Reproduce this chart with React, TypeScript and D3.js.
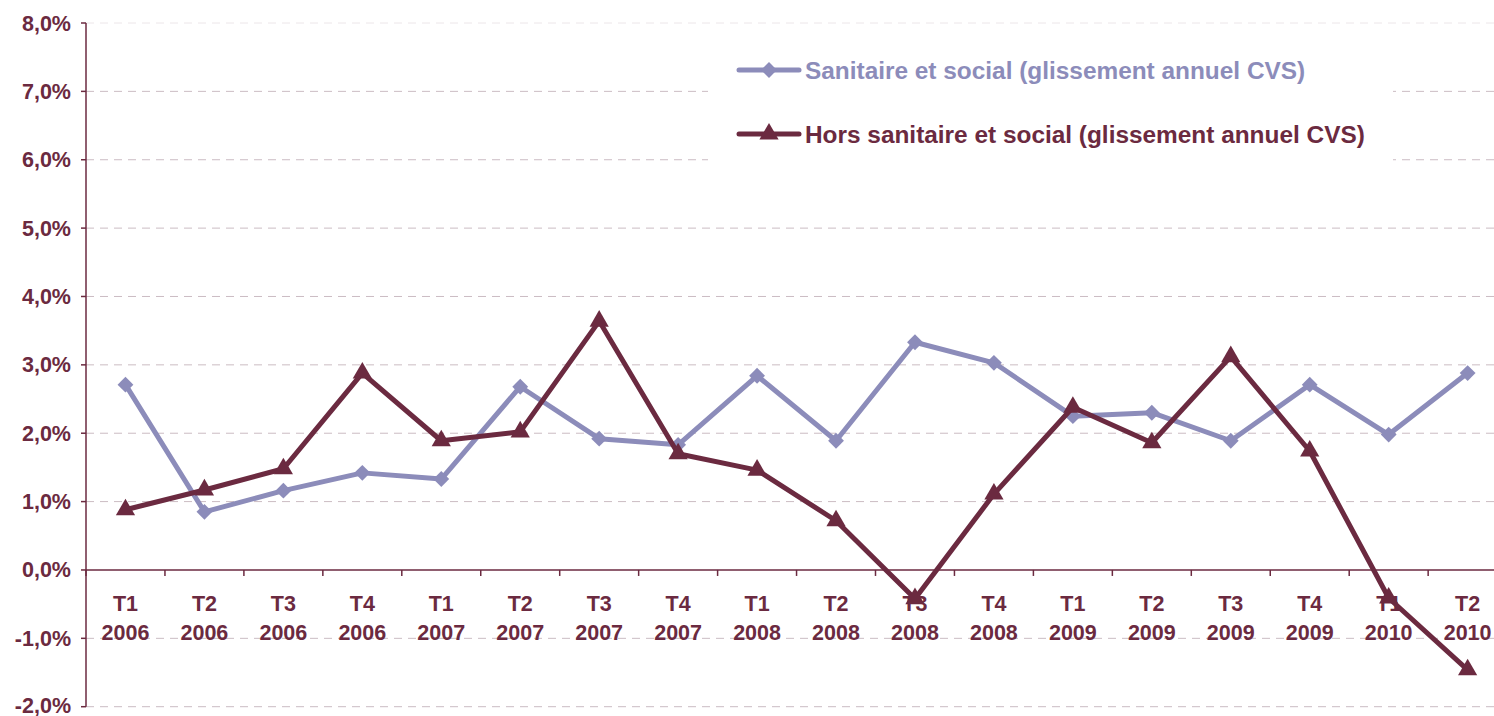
import React from "react";
import * as d3 from "d3";

const quarters = ["T1","T2","T3","T4","T1","T2","T3","T4","T1","T2","T3","T4","T1","T2","T3","T4","T1","T2"];
const years = ["2006","2006","2006","2006","2007","2007","2007","2007","2008","2008","2008","2008","2009","2009","2009","2009","2010","2010"];
const sanitaire = [2.71,0.85,1.16,1.42,1.33,2.68,1.92,1.83,2.84,1.89,3.33,3.03,2.25,2.30,1.89,2.71,1.98,2.88];
const hors = [0.88,1.17,1.48,2.88,1.89,2.02,3.64,1.70,1.46,0.72,-0.42,1.11,2.38,1.86,3.12,1.74,-0.41,-1.46];
const yTicks = [8,7,6,5,4,3,2,1,0,-1,-2];
const seriesNames = ["Sanitaire et social (glissement annuel CVS)", "Hors sanitaire et social (glissement annuel CVS)"];

const W = 1494, H = 716;
const MAROON = "#6b2a40";
const LAV = "#8c8cba";
const GRID = "#cbbcc3";
const FONT = "'Liberation Sans', Arial, sans-serif";

export default function App() {
  const x0 = 86;
  const band = 78.95;
  const idx = d3.range(quarters.length).map(String);
  const x = d3.scaleBand().domain(idx).range([x0, x0 + band * quarters.length]).padding(0);
  const cx = (i: number) => (x(String(i)) as number) + x.bandwidth() / 2;
  const y = d3.scaleLinear().domain([-2, 8]).range([706.7, 23]);

  const line = d3.line<number>().x((_, i) => cx(i)).y((d) => y(d));
  const diamond = d3.symbol().type(d3.symbolDiamond2).size(160)();
  const tri = d3.symbol().type(d3.symbolTriangle).size(160)();

  const fmt = (v: number) => v.toFixed(1).replace(".", ",") + "%";

  return (
    <svg width={W} height={H} style={{ position: "absolute", left: 0, top: 0, background: "#fff" }} fontFamily={FONT}>
      {/* gridlines */}
      {yTicks.filter((t) => t !== 0).map((t) => (
        <line key={"g" + t} x1={x0} x2={W} y1={y(t)} y2={y(t)} stroke={t === 8 ? "#ece6e9" : GRID} strokeWidth={1} strokeDasharray="8,6" />
      ))}
      {/* legend background */}
      <rect x={708} y={36} width={685} height={128} fill="#fff" />
      {/* y axis */}
      <line x1={x0} x2={x0} y1={y(8)} y2={y(-2)} stroke={MAROON} strokeWidth={1.5} />
      {yTicks.map((t) => (
        <g key={"t" + t}>
          <line x1={x0 - 5} x2={x0} y1={y(t)} y2={y(t)} stroke={MAROON} strokeWidth={1.5} />
          <text x={71} y={Math.min(y(t), 705)} dy="0.35em" textAnchor="end" fontSize={21.5} fontWeight="bold" fill={MAROON}>{fmt(t)}</text>
        </g>
      ))}
      {/* x axis */}
      <line x1={x0} x2={W} y1={y(0)} y2={y(0)} stroke={MAROON} strokeWidth={1.5} />
      {d3.range(quarters.length + 1).map((i) => (
        <line key={"xt" + i} x1={x0 + i * band} x2={x0 + i * band} y1={y(0)} y2={y(0) + 6} stroke={MAROON} strokeWidth={1.5} />
      ))}
      {quarters.map((q, i) => (
        <g key={"xl" + i}>
          <text x={cx(i)} y={611} textAnchor="middle" fontSize={21.5} fontWeight="bold" fill={MAROON}>{q}</text>
          <text x={cx(i)} y={640} textAnchor="middle" fontSize={21.5} fontWeight="bold" fill={MAROON}>{years[i]}</text>
        </g>
      ))}
      {/* series */}
      <path d={line(sanitaire) || ""} fill="none" stroke={LAV} strokeWidth={5} strokeLinejoin="round" />
      {sanitaire.map((v, i) => (
        <path key={"s" + i} d={diamond || ""} transform={`translate(${cx(i)},${y(v)})`} fill={LAV} />
      ))}
      <path d={line(hors) || ""} fill="none" stroke={MAROON} strokeWidth={5} strokeLinejoin="round" />
      {hors.map((v, i) => (
        <path key={"h" + i} d={tri || ""} transform={`translate(${cx(i)},${y(v)})`} fill={MAROON} />
      ))}
      {/* legend */}
      <g>
        <line x1={739} x2={799} y1={70} y2={70} stroke={LAV} strokeWidth={5} strokeLinecap="round" />
        <path d={diamond || ""} transform="translate(769,70)" fill={LAV} />
        <text x={805} y={70} dy="0.35em" fontSize={24.4} fontWeight="bold" fill={LAV}>{seriesNames[0]}</text>
        <line x1={739} x2={799} y1={134} y2={134} stroke={MAROON} strokeWidth={5} strokeLinecap="round" />
        <path d={tri || ""} transform="translate(769,134)" fill={MAROON} />
        <text x={805} y={134} dy="0.35em" fontSize={24.4} fontWeight="bold" fill={MAROON}>{seriesNames[1]}</text>
      </g>
    </svg>
  );
}
